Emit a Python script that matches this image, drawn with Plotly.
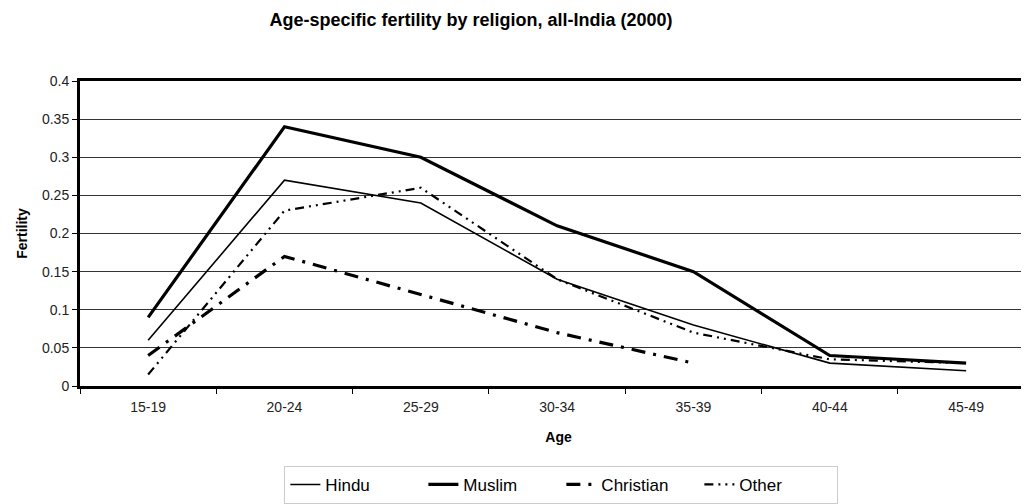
import plotly.graph_objects as go

ages = ["15-19", "20-24", "25-29", "30-34", "35-39", "40-44", "45-49"]
hindu = [0.06, 0.27, 0.24, 0.14, 0.08, 0.03, 0.02]
muslim = [0.09, 0.34, 0.30, 0.21, 0.15, 0.04, 0.03]
christian = [0.04, 0.17, 0.12, 0.07, 0.03, None, None]
other = [0.015, 0.23, 0.26, 0.14, 0.07, 0.035, 0.03]
yticks = [0, 0.05, 0.1, 0.15, 0.2, 0.25, 0.3, 0.35, 0.4]
ytick_text = ["0", "0.05", "0.1", "0.15", "0.2", "0.25", "0.3", "0.35", "0.4"]

font = "Liberation Sans, Arial, sans-serif"

fig = go.Figure()
fig.add_trace(go.Scatter(x=ages, y=hindu, name="Hindu", mode="lines",
                         line=dict(color="black", width=1.6)))
fig.add_trace(go.Scatter(x=ages, y=muslim, name="Muslim", mode="lines",
                         line=dict(color="black", width=3.2)))
fig.add_trace(go.Scatter(x=ages, y=christian, name="Christian", mode="lines",
                         line=dict(color="black", width=3.2, dash="14px,8px,3px,8px")))
fig.add_trace(go.Scatter(x=ages, y=other, name="Other", mode="lines",
                         line=dict(color="black", width=2.2, dash="9px,5px,2px,5px,2px,5px")))

fig.update_layout(
    width=1029, height=504,
    margin=dict(l=72, r=0, t=73, b=126, autoexpand=False),
    paper_bgcolor="white", plot_bgcolor="white",
    font=dict(family=font, color="black", size=12),
    title=dict(text="<b>Age-specific fertility by religion, all-India (2000)</b>",
               x=0.45, xanchor="center", y=0.976, yanchor="middle",
               font=dict(size=18, family=font, color="black")),
    showlegend=True,
    legend=dict(orientation="h", x=0.503, xanchor="center", y=-0.262, yanchor="top",
                bordercolor="#cccccc", borderwidth=1, font=dict(size=17, family=font),
                entrywidth=93, entrywidthmode="pixels", tracegroupgap=0),
    xaxis=dict(type="category", range=[-0.5, 6.52], showgrid=False, automargin=False,
               showline=True, linecolor="black", linewidth=3, mirror=True,
               ticks="outside", tickson="boundaries", ticklen=5, tickcolor="black",
               ticklabelstandoff=6,
               tickfont=dict(size=14, color="#222222"),
               title=dict(text="<b>Age</b>", font=dict(size=14), standoff=19)),
    yaxis=dict(range=[0, 0.4], tickvals=yticks, ticktext=ytick_text, automargin=False,
               showgrid=True, gridcolor="#333333", gridwidth=1,
               showline=True, linecolor="black", linewidth=3,
               ticks="outside", ticklen=5, tickcolor="black",
               tickfont=dict(size=14, color="#222222"), zeroline=False,
               title=dict(text="<b>Fertility</b>", font=dict(size=14), standoff=12)),
)

fig.write_html("out.html")
